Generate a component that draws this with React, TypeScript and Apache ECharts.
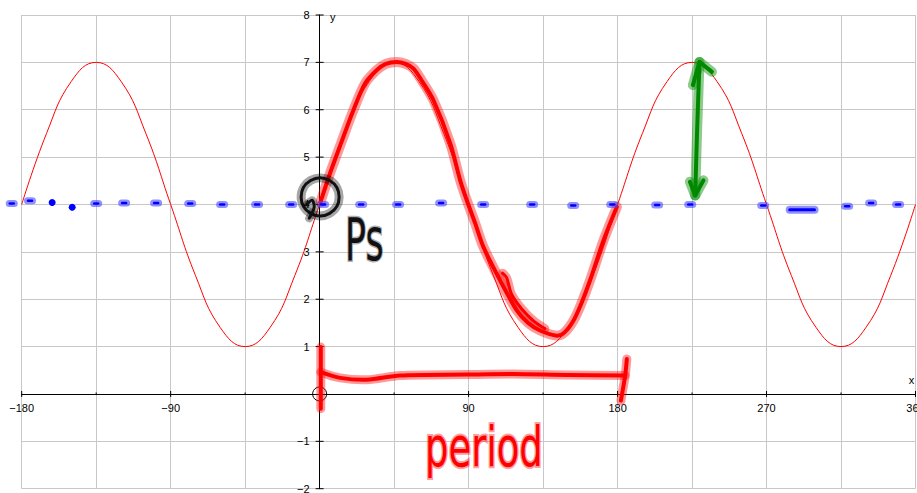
import React, { useEffect, useRef } from "react";
import * as echarts from "echarts";

// y = 4 + 3·sin(2x): sampled every 15°
const curveAngles = [
  -180, -165, -150, -135, -120, -105, -90, -75, -60, -45, -30, -15,
  0, 15, 30, 45, 60, 75, 90, 105, 120, 135, 150, 165,
  180, 195, 210, 225, 240, 255, 270, 285, 300, 315, 330, 345, 360,
];
const curveValues = [
  4, 5.5, 6.6, 7, 6.6, 5.5, 4, 2.5, 1.4, 1, 1.4, 2.5,
  4, 5.5, 6.6, 7, 6.6, 5.5, 4, 2.5, 1.4, 1, 1.4, 2.5,
  4, 5.5, 6.6, 7, 6.6, 5.5, 4, 2.5, 1.4, 1, 1.4, 2.5, 4,
];

const xMajorTicks = [-180, -90, 90, 180, 270, 360];
const xMinorTicks = [-135, -45, 45, 135, 225, 315];
const yTicks = [-2, -1, 1, 2, 3, 4, 5, 6, 7, 8];

// hand-drawn marks, in axis units (degrees, y)
const periodTrace = [
  [0.5, 4.05], [6.3, 4.66], [13, 5.3], [20.4, 5.99], [27.5, 6.56], [34.6, 6.84],
  [40, 6.97], [46.6, 7.01], [52, 6.97], [56.7, 6.87], [62, 6.6], [68.8, 6.2],
  [78.9, 5.29], [84.9, 4.51], [88.9, 4.09], [94, 3.6], [99, 3.1], [109, 2.4],
  [119.2, 1.76], [126, 1.5], [133.2, 1.34], [143.3, 1.23], [148, 1.3],
  [153.4, 1.55], [158, 1.9], [163.4, 2.4], [171.5, 3.24], [179.6, 3.95],
];
const traceSquiggle = [[110.5, 2.55], [113, 2.45], [116, 2.1], [122, 1.8], [129, 1.55], [136, 1.38]];
const bracketLeft = [[0.7, 0.99], [0.7, -0.31]];
const bracketBar = [
  [0.7, 0.46], [12.4, 0.34], [28.5, 0.3], [48.6, 0.39], [89, 0.41],
  [117, 0.42], [149.4, 0.4], [184.6, 0.39],
];
const bracketRight = [[185.6, 0.74], [184.6, 0.39], [182, -0.14]];
const arrowShaft = [[229.5, 7.01], [228, 5.5], [226.9, 4.19]];
const arrowTop = [[225.5, 6.52], [229.5, 7.01], [237, 6.8]];
const arrowBottom = [[223.7, 4.48], [226.9, 4.19], [231.9, 4.51]];
const midlineDashes = [
  [-186, 4.02], [-175, 4.08], [-135, 4.02], [-118.1, 4.03], [-98.8, 4.03],
  [-78.2, 4.02], [-58.9, 4.0], [-37.8, 4.0], [-17.2, 4.0], [2.1, 4.0],
  [25.1, 4.0], [47.4, 4.0], [73.4, 4.03], [98.8, 4.0], [128.4, 4.0],
  [153.2, 3.98], [176.8, 4.0], [203.9, 3.99], [223.9, 4.0], [268, 3.98],
  [318.7, 3.96], [333.2, 4.03], [349.5, 4.0],
];
const midlineDots = [[-161.6, 4.04], [-149.5, 3.94]];
const midlineLongDash = [[284, 3.89], [299, 3.89]];
const phaseShiftCircle = [0.3, 4.16];
const phaseShiftHook = [[-7.7, 4.0], [-4.5, 4.09], [-3.3, 3.94], [-6.3, 3.71]];
const psLabelAt = [15.4, 3.25];
const periodLabelAt = [63.7, -1.1];

const fmt = (v: number) => (v < 0 ? "\u2212" + Math.abs(v) : String(v));

const labelFont = { fontSize: 11, fontFamily: "Liberation Sans", fill: "#000" };

export default function App() {
  const ref = useRef<HTMLDivElement>(null);

  useEffect(() => {
    if (!ref.current) return;
    const chart = echarts.init(ref.current, undefined, { renderer: "svg" });

    const renderMarks = (_params: any, api: any) => {
      const c = (p: number[]) => api.coord(p);
      const pts = (arr: number[][]) => arr.map(c);
      const children: any[] = [];

      const stroke = (arr: number[][], core: string, halo: string, w: number, hw: number, smooth = 0.3) => {
        children.push({
          type: "polyline",
          shape: { points: pts(arr), smooth },
          style: { stroke: halo, lineWidth: hw, fill: "none", lineCap: "round", lineJoin: "round" },
        });
        children.push({
          type: "polyline",
          shape: { points: pts(arr), smooth },
          style: { stroke: core, lineWidth: w, fill: "none", lineCap: "round", lineJoin: "round" },
        });
      };

      // axis ticks crossing the axis lines, and their labels
      const o = c([0, 0]);
      xMajorTicks.forEach((v) => {
        const p = c([v, 0]);
        children.push({ type: "line", shape: { x1: p[0], y1: p[1] - 3, x2: p[0], y2: p[1] + 3 }, style: { stroke: "#000", lineWidth: 1 } });
        children.push({ type: "text", x: p[0], y: p[1] + 14, style: { ...labelFont, text: fmt(v), align: "center", verticalAlign: "middle" } });
      });
      xMinorTicks.forEach((v) => {
        const p = c([v, 0]);
        children.push({ type: "line", shape: { x1: p[0], y1: p[1] - 1.5, x2: p[0], y2: p[1] + 1 }, style: { stroke: "#000", lineWidth: 1 } });
      });
      yTicks.forEach((v) => {
        const p = c([0, v]);
        children.push({ type: "line", shape: { x1: p[0] - 4, y1: p[1], x2: p[0] + 4, y2: p[1] }, style: { stroke: "#000", lineWidth: 1 } });
        children.push({ type: "text", x: p[0] - 10, y: p[1], style: { ...labelFont, text: fmt(v), align: "right", verticalAlign: "middle" } });
      });
      const yTop = c([0, 8]);
      children.push({ type: "text", x: yTop[0] + 13, y: yTop[1] + 2, style: { ...labelFont, text: "y", align: "center", verticalAlign: "middle" } });
      const xEnd = c([360, 0]);
      children.push({ type: "text", x: xEnd[0] - 4, y: xEnd[1] - 14, style: { ...labelFont, text: "x", align: "center", verticalAlign: "middle" } });
      children.push({ type: "circle", shape: { cx: o[0], cy: o[1], r: 7 }, style: { stroke: "#000", lineWidth: 1, fill: "none" } });

      // red highlight over one period
      stroke(periodTrace, "#ff0000", "rgba(255,0,0,0.4)", 4, 10);
      stroke(traceSquiggle, "#ff0000", "rgba(255,0,0,0.4)", 3, 9);

      // blue midline
      midlineDashes.forEach((d) => {
        const p = c(d);
        children.push({ type: "line", shape: { x1: p[0] - 2.5, y1: p[1], x2: p[0] + 2.5, y2: p[1] }, style: { stroke: "rgba(70,70,255,0.6)", lineWidth: 7, lineCap: "round" } });
        children.push({ type: "line", shape: { x1: p[0] - 2, y1: p[1], x2: p[0] + 2, y2: p[1] }, style: { stroke: "#0000ff", lineWidth: 2.5, lineCap: "round" } });
      });
      stroke(midlineLongDash, "#0000ff", "rgba(70,70,255,0.6)", 3, 8, 0);
      midlineDots.forEach((d) => {
        const p = c(d);
        children.push({ type: "circle", shape: { cx: p[0], cy: p[1], r: 3.5 }, style: { fill: "#0000ff" } });
      });

      // period bracket
      stroke(bracketLeft, "#ff0000", "rgba(255,0,0,0.4)", 4, 9, 0);
      stroke(bracketBar, "#ff0000", "rgba(255,0,0,0.4)", 4, 9);
      stroke(bracketRight, "#ff0000", "rgba(255,0,0,0.4)", 4, 9);
      const pl = c(periodLabelAt);
      children.push({
        type: "text", x: pl[0], y: pl[1], scaleX: 0.66,
        style: { text: "period", fontSize: 56, fontFamily: "DejaVu Sans", fill: "#ff0000", stroke: "rgba(255,0,0,0.4)", lineWidth: 4, align: "left", verticalAlign: "middle" },
      });

      // amplitude arrow
      stroke(arrowShaft, "#008800", "rgba(0,140,0,0.45)", 4, 10);
      stroke(arrowTop, "#008800", "rgba(0,140,0,0.45)", 4, 10, 0);
      stroke(arrowBottom, "#008800", "rgba(0,140,0,0.45)", 4, 10, 0);

      // phase shift marker
      const pc = c(phaseShiftCircle);
      children.push({ type: "circle", shape: { cx: pc[0], cy: pc[1], r: 19 }, style: { stroke: "rgba(0,0,0,0.35)", lineWidth: 9, fill: "none" } });
      children.push({ type: "circle", shape: { cx: pc[0], cy: pc[1], r: 19 }, style: { stroke: "#111", lineWidth: 3, fill: "none" } });
      stroke(phaseShiftHook, "#111", "rgba(0,0,0,0.35)", 3, 8);
      const ps = c(psLabelAt);
      children.push({
        type: "text", x: ps[0], y: ps[1], scaleX: 0.6,
        style: { text: "Ps", fontSize: 58, fontFamily: "DejaVu Sans", fill: "#111", stroke: "rgba(120,120,120,0.6)", lineWidth: 3, align: "left", verticalAlign: "middle" },
      });

      return { type: "group", children };
    };

    chart.setOption({
      animation: false,
      backgroundColor: "#fff",
      grid: { left: 21.7, right: 1.5, top: 15, bottom: 4.3, containLabel: false, outerBoundsMode: "none" },
      xAxis: {
        type: "value",
        min: -180,
        max: 360,
        interval: 45,
        axisLine: { onZero: true, lineStyle: { color: "#000", width: 1 } },
        axisTick: { show: false },
        axisLabel: { show: false },
        splitLine: { show: true, lineStyle: { color: "#c8c8c8", width: 1 } },
      },
      yAxis: {
        type: "value",
        min: -2,
        max: 8,
        interval: 1,
        axisLine: { onZero: true, lineStyle: { color: "#000", width: 1 } },
        axisTick: { show: false },
        axisLabel: { show: false },
        splitLine: { show: true, lineStyle: { color: "#c8c8c8", width: 1 } },
      },
      series: [
        {
          type: "line",
          data: curveAngles.map((a, i) => [a, curveValues[i]]),
          smooth: 0.45,
          showSymbol: false,
          lineStyle: { color: "#ff0000", width: 1 },
          z: 2,
        },
        {
          type: "custom",
          data: [[0, 0]],
          renderItem: renderMarks,
          clip: false,
          silent: true,
          z: 3,
        },
      ],
    });

    return () => chart.dispose();
  }, []);

  return <div ref={ref} style={{ position: "fixed", left: 0, top: 0, width: 917, height: 493 }} />;
}
